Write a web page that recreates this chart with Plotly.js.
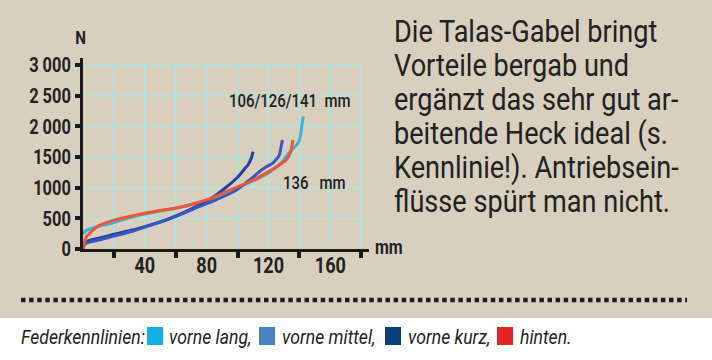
<!DOCTYPE html>
<html>
<head>
<meta charset="utf-8">
<script src="https://cdn.plot.ly/plotly-3.0.1.min.js"></script>
<style>
html,body{margin:0;padding:0;background:#d8cfbf;}
#chart{width:712px;height:360px;}
</style>
</head>
<body>
<div id="chart"></div>
<script>
// ---- data (travel in mm, force in N) ----
var langX   = [0, 2, 5, 10, 19, 30, 40, 50, 60, 70, 80, 95, 110, 120, 128, 133, 136, 139, 140.5, 141.5, 142.5];
var langY   = [250, 300, 330, 370, 424, 510, 570, 620, 665, 725, 790, 950, 1110, 1240, 1400, 1560, 1640, 1725, 1830, 2000, 2160];

var mittelX = [0, 1, 2.4, 11, 20, 32, 43, 54, 65, 75, 85, 97, 100, 105, 110, 114, 118.6, 122.8, 127, 128, 129];
var mittelY = [0, 70, 100, 150, 210, 290, 380, 473, 580, 690, 790, 930, 975, 1070, 1170, 1260, 1340, 1400, 1530, 1650, 1777];

var kurzX   = [0, 1, 3, 11, 20, 32, 43, 54, 65, 75, 85, 93, 100, 105, 106.7, 108.8, 110];
var kurzY   = [0, 80, 130, 180, 240, 310, 390, 480, 595, 717, 860, 1015, 1170, 1320, 1370, 1478, 1587];

var hintenX = [0, 1, 2, 4.5, 8, 11, 20, 30, 43, 63, 70, 80, 95, 110, 122, 131.4, 134.6, 135.7];
var hintenY = [0, 120, 190, 260, 340, 390, 470, 530, 600, 680, 725, 800, 960, 1125, 1290, 1450, 1610, 1777];

var yTickVals  = [0, 500, 1000, 1500, 2000, 2500, 3000];
var yTickText  = ['0', '500', '1000', '1500', '2\u00a0000', '2\u00a0500', '3\u00a0000'];
var xLabelVals = [40, 80, 120, 160];
var xLabelText = ['40', '80', '120', '160'];
var xMarkVals  = [20, 60, 100, 140, 180];

var curveLabels = ['106/126/141\u00a0\u00a0mm', '136\u00a0\u00a0\u00a0mm'];
var seriesNames = ['vorne lang', 'vorne mittel', 'vorne kurz', 'hinten'];
var legendLabels = ['vorne lang,', 'vorne mittel,', 'vorne kurz,', 'hinten.'];
var legendColors = ['#14ade6', '#4a84c6', '#0e3f7c', '#e3232a'];
var bodyLines = [
  'Die Talas-Gabel bringt',
  'Vorteile bergab und',
  'ergänzt das sehr gut ar-',
  'beitende Heck ideal (s.',
  'Kennlinie!). Antriebsein-',
  'flüsse spürt man nicht.'
];

// ---- layout helpers (pixel -> paper) ----
var L = 83, T = 58, W = 286, H = 191;
function px(x){ return (x - L) / W; }
function py(y){ return (T + H - y) / H; }

var FONT = 'Roboto, "Liberation Sans", sans-serif';
var INK = '#222222';

var traces = [
  {x: langX,   y: langY,   name: seriesNames[0], line: {color: '#3eb3d4', width: 3}},
  {x: kurzX,   y: kurzY,   name: seriesNames[2], line: {color: '#2a3fa6', width: 3}},
  {x: mittelX, y: mittelY, name: seriesNames[1], line: {color: '#3658c2', width: 3}},
  {x: hintenX, y: hintenY, name: seriesNames[3], line: {color: '#ef5634', width: 3}}
].map(function(t){ t.type = 'scatter'; t.mode = 'lines'; t.line.shape = 'spline'; t.line.smoothing = 0.6; t.hoverinfo = 'skip'; return t; });

var shapes = [];
for (var gx = 20; gx <= 180; gx += 20) {
  shapes.push({type: 'line', xref: 'x', yref: 'y', x0: gx, x1: gx, y0: 0, y1: 3000, layer: 'below',
               line: {color: '#a9e6e4', width: 1.5}});
}
for (var gy = 500; gy <= 3000; gy += 500) {
  shapes.push({type: 'line', xref: 'x', yref: 'y', x0: 0, x1: 180, y0: gy, y1: gy, layer: 'below',
               line: {color: '#a9e6e4', width: 1.5}});
}
shapes.push({type: 'rect', xref: 'paper', yref: 'paper', x0: px(-5), x1: px(720), y0: py(318), y1: py(365),
             fillcolor: '#ffffff', line: {width: 0}, layer: 'below'});
shapes.push({type: 'line', xref: 'paper', yref: 'paper', x0: px(21), x1: px(687), y0: py(300), y1: py(300),
             line: {color: '#1e1e1e', width: 4.5, dash: '4.5px,3.6px'}});
var swX = [147, 259, 385, 497];
for (var i = 0; i < 4; i++) {
  shapes.push({type: 'rect', xref: 'paper', yref: 'paper', x0: px(swX[i]), x1: px(swX[i] + 16), y0: py(345), y1: py(327),
               fillcolor: legendColors[i], line: {width: 0}});
}

var annotations = [], annScale = [];
function ann(text, x, y, size, scale, weight, opts){
  var a = {text: text, xref: 'paper', yref: 'paper', x: px(x), y: py(y), showarrow: false,
           xanchor: 'left', align: 'left', yanchor: 'middle',
           font: {family: FONT, size: size, color: INK, weight: weight}};
  for (var k in (opts || {})) a[k] = opts[k];
  annotations.push(a); annScale.push(scale);
}
ann('N', 80, 38, 19, 0.8, 700, {xanchor: 'center', align: 'center'});
ann('mm', 373, 247, 20, 0.8, 700);
ann(curveLabels[0], 227, 100, 18, 0.83, 500);
ann(curveLabels[1], 281, 182, 18, 0.83, 500);
for (var j = 0; j < bodyLines.length; j++) {
  ann(bodyLines[j], 392, 31 + j * 34, 31, 0.875, 400);
}
ann('<i>Federkennlinien:</i>', 19, 337, 21, 0.84, 400);
var legX = [167, 280, 406, 518];
for (var m = 0; m < 4; m++) ann('<i>' + legendLabels[m] + '</i>', legX[m], 337, 21, 0.84, 400);

var layout = {
  width: 712, height: 360,
  margin: {l: L, r: 712 - L - W, t: T, b: 360 - T - H},
  paper_bgcolor: '#d8cfbf', plot_bgcolor: 'rgba(0,0,0,0)',
  showlegend: false,
  font: {family: FONT, color: INK},
  xaxis: {
    range: [0, 185], showgrid: false, zeroline: false,
    showline: true, linewidth: 3, linecolor: '#1a1a1a',
    tickmode: 'array', tickvals: xLabelVals, ticktext: xLabelText, ticks: '',
    tickfont: {family: FONT, size: 22, color: INK, weight: 700},
    minor: {tickmode: 'array', tickvals: xMarkVals, ticks: 'outside', ticklen: 6, tickwidth: 4, tickcolor: '#1a1a1a', showgrid: false}
  },
  yaxis: {
    range: [0, 3114], showgrid: false, zeroline: false,
    showline: true, linewidth: 3, linecolor: '#1a1a1a',
    tickmode: 'array', tickvals: yTickVals, ticktext: yTickText,
    ticks: 'outside', ticklen: 5, tickwidth: 4, tickcolor: '#1a1a1a',
    tickfont: {family: FONT, size: 21, color: INK, weight: 700}
  },
  shapes: shapes,
  annotations: annotations
};

// narrow the text horizontally (the original uses a condensed typeface)
function condense(el, s, dy){
  var b = el.getBBox();
  var a = el.getAttribute('text-anchor') || 'start';
  var ax = a === 'end' ? b.x + b.width : (a === 'middle' ? b.x + b.width / 2 : b.x);
  var tr = el.getAttribute('transform') || '';
  el.setAttribute('transform', tr + ' translate(' + (ax * (1 - s)) + ',' + (dy || 0) + ') scale(' + s + ',1)');
}

Plotly.newPlot('chart', traces, layout, {staticPlot: true, displayModeBar: false}).then(function(gd){
  gd.querySelectorAll('.ytick text').forEach(function(t){ condense(t, 0.78); });
  gd.querySelectorAll('.xtick text').forEach(function(t){ condense(t, 0.82, -5); });
  gd.querySelectorAll('.annotation').forEach(function(g, idx){
    var t = g.querySelector('text.annotation-text');
    if (t) condense(t, annScale[idx]);
  });
});
</script>
</body>
</html>
